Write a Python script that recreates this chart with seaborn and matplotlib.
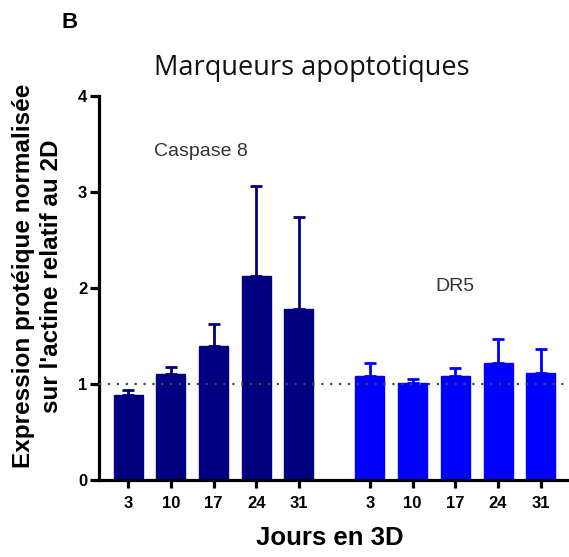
import numpy as np
import pandas as pd
import matplotlib
matplotlib.use("Agg")
import matplotlib.pyplot as plt
import seaborn as sns

# ---- data ----
days = [3, 10, 17, 24, 31]
casp8_mean = [0.89, 1.10, 1.40, 2.13, 1.78]
casp8_sd = [0.05, 0.08, 0.22, 0.93, 0.96]
dr5_mean = [1.08, 1.01, 1.08, 1.22, 1.11]
dr5_sd = [0.14, 0.04, 0.09, 0.25, 0.25]
groups = ["Caspase 8", "DR5"]
colors = ["#000080", "#0000FF"]

sns.set_theme(style="ticks")
plt.rcParams['font.family'] = ['Liberation Sans', 'DejaVu Sans']
plt.rcParams['text.color'] = 'black'
plt.rcParams['axes.labelcolor'] = 'black'
plt.rcParams['xtick.color'] = 'black'
plt.rcParams['ytick.color'] = 'black'

fig = plt.figure(figsize=(5.69, 5.57), dpi=100)
ax = fig.add_axes([99/569, 1-480/557, 1-99/569, (480-96)/557])

group_gap = 5.66  # offset of second group (layout)
n = len(days)
pos1 = np.arange(n, dtype=float)
pos2 = pos1 + group_gap

for pos, mean, sd, col in [(pos1, casp8_mean, casp8_sd, colors[0]),
                            (pos2, dr5_mean, dr5_sd, colors[1])]:
    df = pd.DataFrame({"x": pos, "y": mean})
    sns.barplot(data=df, x="x", y="y", native_scale=True, width=0.68,
                color=col, saturation=1, edgecolor=col, linewidth=1,
                errorbar=None, ax=ax)
    ax.errorbar(pos, mean, yerr=[np.zeros(n), sd], fmt='none', ecolor=col,
                elinewidth=2, capsize=4.3, capthick=2, zorder=3)

ax.axhline(1, color="#444444", linestyle=(0, (1, 3)), linewidth=1.6, zorder=4)

ax.set_xlim(-0.68, pos2[-1] + 0.66)
ax.set_ylim(0, 4)
ax.set_yticks([0, 1, 2, 3, 4])
ax.set_xticks(np.concatenate([pos1, pos2]))
ax.set_xticklabels([str(d) for d in days] * 2)

for s in ["top", "right"]:
    ax.spines[s].set_visible(False)
for s in ["left", "bottom"]:
    ax.spines[s].set_linewidth(2.3)
    ax.spines[s].set_color("black")
ax.tick_params(axis="y", length=6.5, width=2.3, labelsize=12, pad=2)
ax.tick_params(axis="x", length=5.5, width=2.3, labelsize=12, pad=6)
for lab in ax.get_xticklabels() + ax.get_yticklabels():
    lab.set_fontweight("bold")

ax.set_xlabel("Jours en 3D", fontsize=18.5, fontweight="bold")
ax.xaxis.set_label_coords((330 - 99) / 470, -(538 - 480) / 384)
ax.set_ylabel("Expression protéique normalisée\nsur l'actine relatif au 2D",
              fontsize=17.5, fontweight="bold", linespacing=1.3)
ax.yaxis.set_label_coords((37.5 - 99) / 470, (480 - 276) / 384)
ax.xaxis.label.set_va("center")
ax.yaxis.label.set_va("center")

ax.text(1.7, 3.42, groups[0], ha="center", va="center", fontsize=14, color="#333333")
ax.text(7.66, 2.02, groups[1], ha="center", va="center", fontsize=14, color="#333333")

fig.text(312/569, 1-68/557, "Marqueurs apoptotiques", ha="center", va="center",
         fontsize=19.5, family=["Open Sans", "DejaVu Sans"], color="#111111")
fig.text(70/569, 1-22/557, "B", ha="center", va="center", fontsize=16, fontweight="bold")

fig.savefig("out.png", dpi=100)
